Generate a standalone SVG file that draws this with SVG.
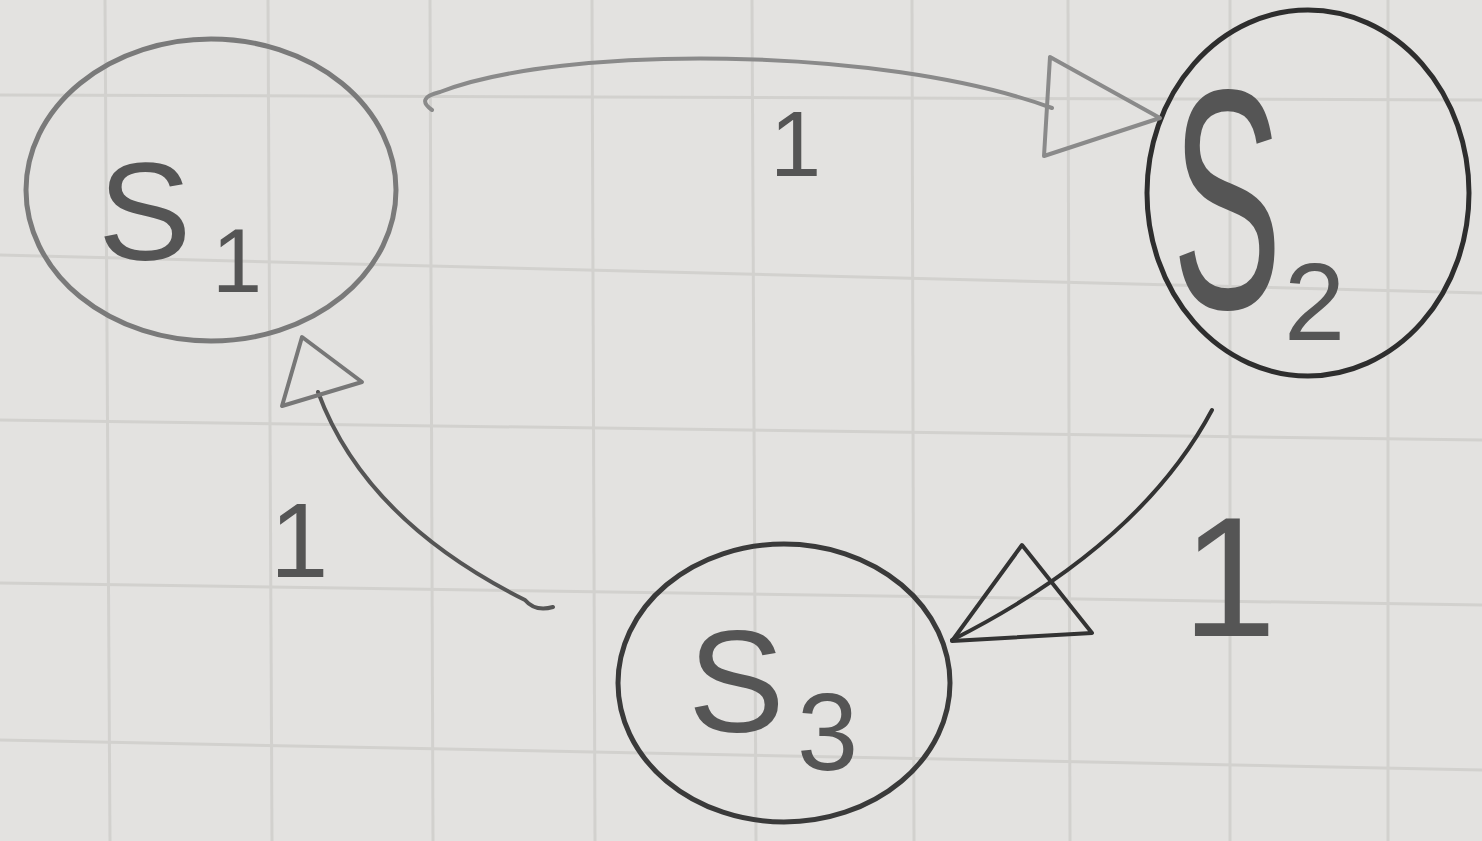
<svg xmlns="http://www.w3.org/2000/svg" width="1482" height="841" viewBox="0 0 1482 841">
<style>
.grid line{stroke:#d2d1ce;stroke-width:3}
.node{fill:none;stroke-width:5}
.lbl{font-family:"Liberation Sans",Arial,sans-serif;fill:#555}
.edge{fill:none;stroke-width:4;stroke-linecap:round}
.head{fill:none;stroke-width:4;stroke-linejoin:round}
</style>
<rect width="1482" height="841" fill="#e3e2e0"/>
<g class="grid">
<line x1="105" y1="0" x2="110" y2="841"/>
<line x1="268" y1="0" x2="272" y2="841"/>
<line x1="430" y1="0" x2="433" y2="841"/>
<line x1="592" y1="0" x2="595" y2="841"/>
<line x1="752" y1="0" x2="756" y2="841"/>
<line x1="912" y1="0" x2="914" y2="841"/>
<line x1="1068" y1="0" x2="1070" y2="841"/>
<line x1="1230" y1="0" x2="1230" y2="841"/>
<line x1="1388" y1="0" x2="1388" y2="841"/>
<line x1="0" y1="95" x2="1482" y2="100"/>
<line x1="0" y1="255" x2="1482" y2="293"/>
<line x1="0" y1="420" x2="1482" y2="440"/>
<line x1="0" y1="583" x2="1482" y2="605"/>
<line x1="0" y1="740" x2="1482" y2="770"/>
</g>
<g id="S1">
<ellipse class="node" cx="211" cy="190" rx="185" ry="151" stroke="#7a7a7a"/>
<text class="lbl" x="98" y="260" font-size="140" fill="#6e6e6e">S</text>
<text class="lbl" x="212" y="292" font-size="90" fill="#6e6e6e">1</text>
</g>
<g id="S2">
<ellipse class="node" cx="1308" cy="193" rx="161" ry="183" stroke="#2e2e2e"/>
<text class="lbl" transform="translate(1172,308) scale(1,1.9)" font-size="165" fill="#3a3a3a">S</text>
<text class="lbl" x="1284" y="340" font-size="110" fill="#3a3a3a">2</text>
</g>
<g id="S3">
<ellipse class="node" cx="784" cy="683" rx="166" ry="139" stroke="#3a3a3a"/>
<text class="lbl" x="688" y="732" font-size="145" fill="#3a3a3a">S</text>
<text class="lbl" x="797" y="770" font-size="110" fill="#3a3a3a">3</text>
</g>
<g id="connectors">
<path class="edge" d="M432,110 Q415,98 440,92 C560,45 880,45 1052,108" stroke="#8a8a8a"/>
<polygon class="head" points="1050,57 1044,156 1160,118" stroke="#8a8a8a"/>
<text class="lbl" x="770" y="176" font-size="92" fill="#777">1</text>
<path class="edge" d="M1212,410 Q1140,545 952,640" stroke="#333"/>
<polygon class="head" points="952,641 1022,545 1092,633" stroke="#333"/>
<text class="lbl" x="1182" y="636" font-size="170" fill="#333">1</text>
<path class="edge" d="M553,607 Q535,612 525,600 Q365,520 318,392" stroke="#555"/>
<polygon class="head" points="302,337 282,406 362,382" stroke="#777"/>
<text class="lbl" x="270" y="577" font-size="105" fill="#555">1</text>
</g>
</svg>
